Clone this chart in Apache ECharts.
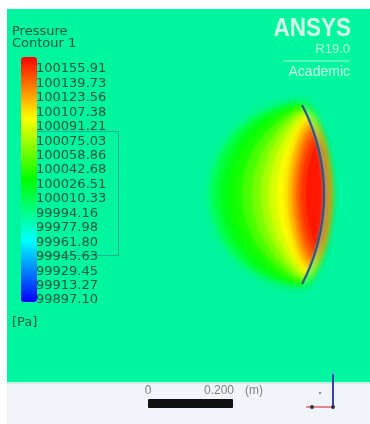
<!DOCTYPE html>
<html>
<head>
<meta charset="utf-8">
<script src="https://cdn.jsdelivr.net/npm/echarts@6/dist/echarts.min.js"></script>
<style>
  html, body { margin: 0; background: #fff; }
  #chart { width: 370px; height: 424px; }
</style>
</head>
<body>
<div id="chart"></div>
<script>
// legend tick labels, top to bottom
const legendLabels = ['100155.91', '100139.73', '100123.56', '100107.38', '100091.21', '100075.03',
  '100058.86', '100042.68', '100026.51', '100010.33', '99994.16', '99977.98', '99961.80',
  '99945.63', '99929.45', '99913.27', '99897.10'];
const pMin = 99897.10;
const pMax = 100155.91;

// contour bands: pressure, depth left of the plate apex (m), share of plate chord covered
const bandLevels = [100000, 100010, 100020, 100030, 100042, 100054, 100066, 100078, 100090, 100100, 100110, 100120, 100130, 100140, 100150];
const bandDepth = [0.268, 0.254, 0.240, 0.221, 0.193, 0.169, 0.148, 0.129, 0.110, 0.085, 0.074, 0.066, 0.060, 0.053, 0.042];
const bandSpan = [1.0, 1.0, 0.99, 0.98, 0.96, 0.95, 0.93, 0.91, 0.89, 0.86, 0.82, 0.78, 0.74, 0.68, 0.6];

// plate (m): top tip, apex, bottom tip
const plateTop = [0.6941, 0.6518];
const plateApex = [0.7459, 0.4412];
const plateBottom = [0.6941, 0.2306];

const domainX = [0, 0.854];
const domainY = [0, 0.8776];

const scaleLabels = ['0', '0.200', '(m)'];

// circle through the three plate points
const cy = (plateTop[1] + plateBottom[1]) / 2;
const halfChord = (plateTop[1] - plateBottom[1]) / 2;
const sag = plateApex[0] - plateTop[0];
const plateR = (halfChord * halfChord + sag * sag) / (2 * sag);
const plateCx = plateApex[0] - plateR;
function plateX(dy) {
  return plateCx + Math.sqrt(plateR * plateR - dy * dy);
}

function renderBand(params, api) {
  const depth = api.value(1);
  const span = api.value(2);
  const hc = span * halfChord;
  const xe = plateX(hc);
  const xl = plateApex[0] - depth;
  const s2 = xe - xl;
  const r2 = (hc * hc + s2 * s2) / (2 * s2);
  const x2 = xl + r2;
  const n = 48;
  const pts = [];
  for (let i = 0; i <= n; i++) {
    const dy = -hc + 2 * hc * i / n;
    pts.push(api.coord([plateX(dy), cy + dy]));
  }
  for (let i = n; i >= 0; i--) {
    const dy = -hc + 2 * hc * i / n;
    pts.push(api.coord([x2 - Math.sqrt(Math.max(0, r2 * r2 - dy * dy)), cy + dy]));
  }
  const color = api.visual('color');
  return {
    type: 'polygon',
    shape: { points: pts },
    style: { fill: color, shadowBlur: 12, shadowColor: color }
  };
}

function renderPlate(params, api) {
  const n = 60;
  const pts = [];
  for (let i = 0; i <= n; i++) {
    const dy = -halfChord + 2 * halfChord * i / n;
    pts.push(api.coord([plateX(dy), cy + dy]));
  }
  return {
    type: 'polyline',
    shape: { points: pts },
    style: { stroke: '#2d5b78', lineWidth: 2.2, fill: null, shadowBlur: 4, shadowColor: '#40f0f0', shadowOffsetX: 1.5 }
  };
}

const bandData = bandLevels.map((v, i) => [v, bandDepth[i], bandSpan[i]]);

const chart = echarts.init(document.getElementById('chart'));
const labelColor = '#1c5a3a';
chart.setOption({
  animation: false,
  grid: [
    { left: 7, top: 9, width: 363, height: 373, show: true, backgroundColor: '#00f5a0', borderWidth: 0 },
    { left: 35, top: 69, width: 10, height: 231 }
  ],
  xAxis: [
    { gridIndex: 0, type: 'value', min: domainX[0], max: domainX[1], show: false },
    { gridIndex: 1, type: 'value', show: false }
  ],
  yAxis: [
    { gridIndex: 0, type: 'value', min: domainY[0], max: domainY[1], show: false },
    {
      gridIndex: 1, type: 'category', boundaryGap: false,
      data: legendLabels.slice().reverse(),
      axisLine: { show: false }, axisTick: { show: false }, splitLine: { show: false },
      axisLabel: { inside: true, margin: 1, interval: 0, color: labelColor, fontSize: 13, fontFamily: 'DejaVu Sans' }
    }
  ],
  visualMap: {
    type: 'continuous', min: pMin, max: pMax, seriesIndex: 0, dimension: 0,
    calculable: false, hoverLink: false,
    left: 6, top: 42, itemWidth: 16, itemHeight: 245,
    inRange: { color: ['#0000ff', '#00ffff', '#00ff00', '#ffff00', '#ff0000'] }
  },
  series: [
    { type: 'custom', xAxisIndex: 0, yAxisIndex: 0, renderItem: renderBand, data: bandData, silent: true },
    { type: 'custom', xAxisIndex: 0, yAxisIndex: 0, renderItem: renderPlate, data: [[0]], silent: true }
  ],
  graphic: [
    { type: 'rect', shape: { x: 7, y: 382, width: 363, height: 42 }, style: { fill: '#f2f4fc' } },
    { type: 'rect', shape: { x: 7, y: 382, width: 363, height: 2 }, style: { fill: '#c9eee4' } },
    { type: 'text', style: { text: 'Pressure', x: 12, y: 32, fill: labelColor, font: '13px DejaVu Sans', verticalAlign: 'middle' } },
    { type: 'text', style: { text: 'Contour 1', x: 12, y: 44, fill: labelColor, font: '13px DejaVu Sans', verticalAlign: 'middle' } },
    { type: 'text', style: { text: '[Pa]', x: 12, y: 323, fill: labelColor, font: '13px DejaVu Sans', verticalAlign: 'middle' } },
    { type: 'rect', shape: { x: 30.5, y: 131.5, width: 88, height: 124 }, style: { fill: null, stroke: 'rgba(60,80,110,0.4)', lineWidth: 1 } },
    { type: 'text', x: 351, y: 29, scaleX: 0.9, style: { text: 'ANSYS', x: 0, y: 0, align: 'right', verticalAlign: 'middle', fill: '#d3fbec', font: 'bold 25px Liberation Sans' } },
    { type: 'text', style: { text: 'R19.0', x: 350, y: 49, align: 'right', verticalAlign: 'middle', fill: '#b3f3da', font: '13px Liberation Sans' } },
    { type: 'line', shape: { x1: 283, y1: 61, x2: 350, y2: 61 }, style: { stroke: '#a9f0d4', lineWidth: 1 } },
    { type: 'text', style: { text: 'Academic', x: 350, y: 72, align: 'right', verticalAlign: 'middle', fill: '#c6f7e2', font: '14px Liberation Sans' } },
    { type: 'text', style: { text: scaleLabels[0], x: 148, y: 391, align: 'center', verticalAlign: 'middle', fill: '#808080', font: '12px Liberation Sans' } },
    { type: 'text', style: { text: scaleLabels[1], x: 219, y: 391, align: 'center', verticalAlign: 'middle', fill: '#808080', font: '12px Liberation Sans' } },
    { type: 'text', style: { text: scaleLabels[2], x: 245, y: 391, verticalAlign: 'middle', fill: '#808080', font: '12px Liberation Sans' } },
    { type: 'rect', shape: { x: 148, y: 399, width: 85, height: 9, r: 1 }, style: { fill: '#111' } },
    { type: 'line', shape: { x1: 333, y1: 374, x2: 333, y2: 407 }, style: { stroke: '#3646a8', lineWidth: 2 } },
    { type: 'line', shape: { x1: 306, y1: 407, x2: 333, y2: 407 }, style: { stroke: '#e06070', lineWidth: 1.5 } },
    { type: 'circle', shape: { cx: 333, cy: 373, r: 1.5 }, style: { fill: '#40c0e0' } },
    { type: 'circle', shape: { cx: 312, cy: 407, r: 2 }, style: { fill: '#333' } },
    { type: 'circle', shape: { cx: 333, cy: 407, r: 2 }, style: { fill: '#333' } },
    { type: 'circle', shape: { cx: 320, cy: 393, r: 1.2 }, style: { fill: '#7a9a90' } }
  ]
});
</script>
</body>
</html>
